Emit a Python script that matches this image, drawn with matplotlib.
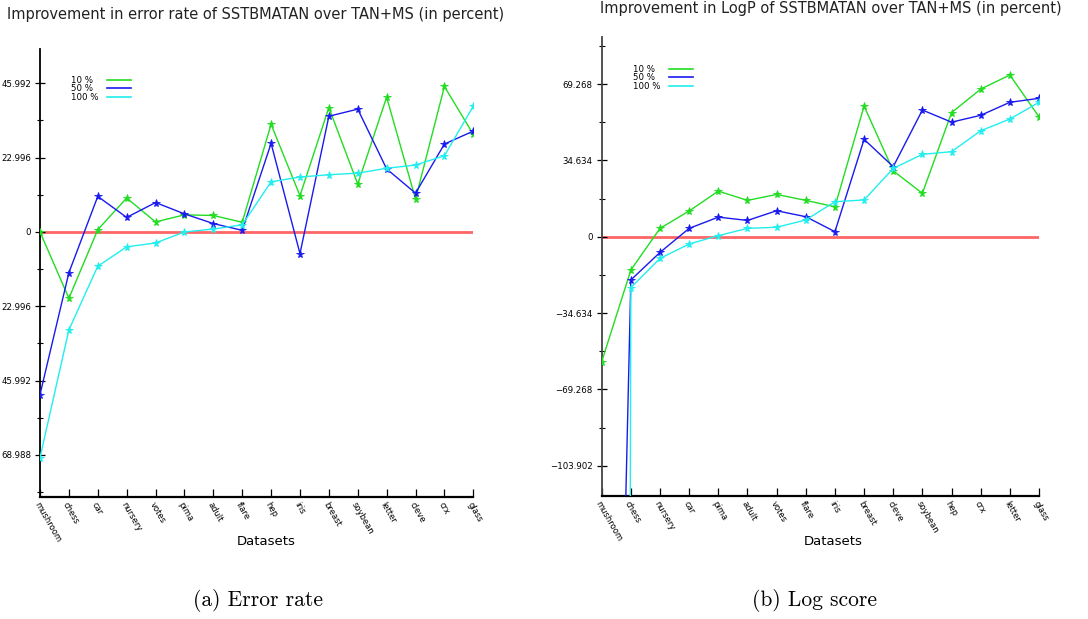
import matplotlib.pyplot as plt
from matplotlib.lines import Line2D
from matplotlib.ticker import FixedLocator, FuncFormatter

# (a) error rate improvement, datasets in plotted order
err_datasets = ["mushroom", "chess", "car", "nursery", "votes", "pima", "adult", "flare",
                "hep", "iris", "breast", "soybean", "letter", "cleve", "crx", "glass"]
err_10 = [0.0, -20.5, 0.7, 10.5, 3.1, 5.3, 5.1, 3.0, 33.3, 11.2, 38.5, 14.8, 41.7, 10.2, 45.0, 30.2]
err_50 = [-50.3, -12.6, 11.0, 4.5, 9.1, 5.6, 2.6, 0.5, 27.4, -6.7, 35.8, 38.0, 19.5, 12.0, 27.2, 31.2]
err_100 = [-69.8, -30.3, -10.6, -4.6, -3.4, 0.0, 0.9, 2.2, 15.5, 17.0, 17.7, 18.2, 19.7, 20.7, 23.6, 38.9]
err_step = 22.996

# (b) log score improvement
log_datasets = ["mushroom", "chess", "nursery", "car", "pima", "adult", "votes", "flare",
                "iris", "breast", "cleve", "soybean", "hep", "crx", "letter", "glass"]
log_10 = [-56.7, -15.1, 3.8, 11.7, 20.7, 16.5, 19.2, 16.5, 13.6, 59.3, 29.9, 19.7, 56.3, 67.0, 73.4, 54.4]
log_50 = [-590.0, -19.6, -7.1, 3.8, 8.9, 7.4, 11.8, 9.1, 2.3, 44.2, 31.8, 57.5, 52.0, 55.1, 61.0, 62.8]
log_100 = [-5000.0, -23.1, -9.8, -3.3, 0.5, 3.8, 4.3, 7.6, 15.9, 16.7, 31.0, 37.4, 38.6, 48.1, 53.4, 61.0]
log_step = 34.634

series_labels = ["10 %", "50 %", "100 %"]
colors = ["#22dd22", "#1a1aee", "#22eeee"]

W, H = 1088, 619


def px_axes(fig, x0, x1, ytop, ybot):
    return fig.add_axes([x0 / W, 1 - ybot / H, (x1 - x0) / W, (ybot - ytop) / H])


def fmt_signed(v, p):
    return "0" if abs(v) < 1e-9 else ("%.3f" % v).replace("-", "\u2212")


def fmt_unsigned(v, p):
    # the left panel's labels show no sign in the original (it is cut at the page edge)
    return "0" if abs(v) < 1e-9 else "%.3f" % abs(v)


def draw_panel(ax, datasets, series, step, ylim, spine_color, fmt):
    x = list(range(len(datasets)))
    ax.axhline(0, color="#ff6666", lw=2, zorder=1)
    for vals, c in zip(series, colors):
        ax.plot(x, vals, color=c, lw=1.0, marker="*", ms=5.8, mec=c, mew=0.6, zorder=3)
    ax.set_xlim(0, len(datasets) - 1)
    ax.set_ylim(*ylim)

    for s in ["top", "right"]:
        ax.spines[s].set_visible(False)
    ax.spines["bottom"].set_linewidth(1.6)
    ax.spines["left"].set_linewidth(1.3)
    ax.spines["left"].set_color(spine_color)

    ax.set_xticks(x)
    ax.set_xticklabels(datasets, rotation=-60, ha="left", va="top",
                       rotation_mode="anchor", fontsize=6)
    ax.tick_params(axis="x", direction="in", length=6, width=0.9, pad=3)

    majors = [k * step for k in range(-4, 4) if ylim[0] <= k * step <= ylim[1]]
    minors = [(k + 0.5) * step for k in range(-5, 4) if ylim[0] <= (k + 0.5) * step <= ylim[1]]
    ax.yaxis.set_major_locator(FixedLocator(majors))
    ax.yaxis.set_minor_locator(FixedLocator(minors))
    ax.yaxis.set_major_formatter(FuncFormatter(fmt))
    ax.tick_params(axis="y", which="major", direction="inout", length=7, width=0.9,
                   pad=3, labelsize=6.2)
    ax.tick_params(axis="y", which="minor", direction="inout", length=5, width=0.8)

    handles = [Line2D([], [], color=c, lw=1.2) for c in colors]
    width = max(len(s) for s in series_labels)
    labels = [s + "\u2007" * (width - len(s)) for s in series_labels]
    ax.legend(handles, labels, loc="upper left", bbox_to_anchor=(0.072, 0.94),
              frameon=False, markerfirst=False, fontsize=6.2, handlelength=2.7,
              handletextpad=1.0, labelspacing=-0.05, borderpad=0, borderaxespad=0)

    ax.set_xlabel("Datasets", fontsize=9.5)


fig = plt.figure(figsize=(W / 100, H / 100), dpi=100)

ax1 = px_axes(fig, 40, 473.3, 49, 496.7)
draw_panel(ax1, err_datasets, [err_10, err_50, err_100], err_step, (-81.9, 56.6),
           "black", fmt_unsigned)
ax1.xaxis.set_label_coords(0.522, -0.101)
ax1.xaxis.label.set_va("center")

ax2 = px_axes(fig, 601.7, 1039, 37.3, 495.7)
draw_panel(ax2, log_datasets, [log_10, log_50, log_100], log_step, (-117.5, 90.5),
           "#444444", fmt_signed)
ax2.xaxis.set_label_coords(0.529, -0.101)
ax2.xaxis.label.set_va("center")

fig.text(256 / W, 1 - 14 / H, "Improvement in error rate of SSTBMATAN over TAN+MS (in percent)",
         ha="center", va="center", fontsize=10.5, color="#222222")
fig.text(831 / W, 1 - 9 / H, "Improvement in LogP of SSTBMATAN over TAN+MS (in percent)",
         ha="center", va="center", fontsize=10.5, color="#222222")

fig.text(258 / W, 1 - 600 / H, "(a) Error rate", ha="center", va="center",
         fontsize=15.5, family="cmr10")
fig.text(815 / W, 1 - 600 / H, "(b) Log score", ha="center", va="center",
         fontsize=15.5, family="cmr10")

fig.savefig("out.png", dpi=100)
